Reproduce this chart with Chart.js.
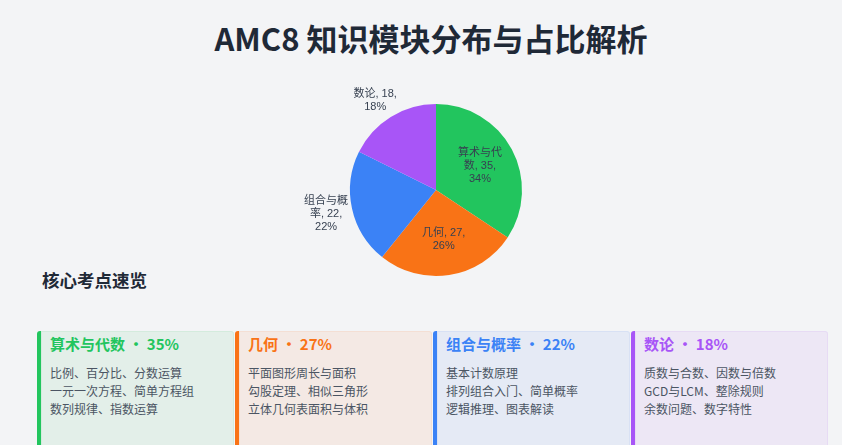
<!DOCTYPE html>
<html lang="zh-CN">
<head>
<meta charset="UTF-8">
<title>AMC8 知识模块分布与占比解析</title>
<script src="https://cdn.jsdelivr.net/npm/chart.js@4.4.1/dist/chart.umd.min.js"></script>
<style>
    html, body {
        margin: 0;
        padding: 0;
        background: #f3f4f6;
        font-family: "Noto Sans CJK SC", "Noto Sans", sans-serif;
    }
    .page {
        position: relative;
        width: 842px;
        height: 445px;
        overflow: hidden;
    }
    h1 {
        position: absolute;
        left: 20px;
        width: 822px;
        top: 15px;
        margin: 0;
        text-align: center;
        font-size: 31px;
        font-weight: 700;
        line-height: 46px;
        color: #1f2937;
    }
    .chart-box {
        position: absolute;
        left: 236px;
        top: 74px;
        width: 400px;
        height: 232px;
    }
    h2 {
        position: absolute;
        left: 42px;
        top: 267px;
        margin: 0;
        font-size: 17.5px;
        font-weight: 700;
        line-height: 26px;
        color: #1f2937;
    }
    .cards {
        position: absolute;
        left: 37px;
        top: 331px;
        width: 791px;
        display: grid;
        grid-template-columns: repeat(4, 1fr);
        gap: 1px;
    }
    .card {
        height: 130px;
        box-sizing: border-box;
        border-left: 4px solid;
        border-radius: 3px;
        padding: 1px 9px;
    }
    .card .head {
        font-size: 15px;
        font-weight: 700;
        line-height: 24px;
        margin-bottom: 8px;
    }
    .card .item {
        font-size: 12px;
        line-height: 18px;
        color: #4b5563;
    }
</style>
</head>
<body>
<div class="page">
    <h1>AMC8 知识模块分布与占比解析</h1>
    <div class="chart-box"><canvas id="pieChart"></canvas></div>
    <h2>核心考点速览</h2>
    <div class="cards" id="cards"></div>
</div>
<script>
// Chart data
const modules = ['算术与代数', '几何', '组合与概率', '数论'];
const moduleCounts = [35, 27, 22, 18];
const moduleColors = ['#22c55e', '#f97316', '#3b82f6', '#a855f7'];
const cardPercents = ['35%', '27%', '22%', '18%'];
const cardItems = [
    ['比例、百分比、分数运算', '一元一次方程、简单方程组', '数列规律、指数运算'],
    ['平面图形周长与面积', '勾股定理、相似三角形', '立体几何表面积与体积'],
    ['基本计数原理', '排列组合入门、简单概率', '逻辑推理、图表解读'],
    ['质数与合数、因数与倍数', 'GCD与LCM、整除规则', '余数问题、数字特性']
];

// Turn a hex colour into rgba with the given alpha
function hexToRgba(hex, alpha) {
    const n = parseInt(hex.slice(1), 16);
    return 'rgba(' + (n >> 16) + ', ' + ((n >> 8) & 255) + ', ' + (n & 255) + ', ' + alpha + ')';
}

// Build the summary cards
const cardsEl = document.getElementById('cards');
modules.forEach(function(name, i) {
    const card = document.createElement('div');
    card.className = 'card';
    card.style.borderLeftColor = moduleColors[i];
    card.style.background = hexToRgba(moduleColors[i], 0.08);
    card.style.boxShadow = 'inset 0 0 0 1px ' + hexToRgba(moduleColors[i], 0.08);
    let html = '<div class="head" style="color:' + moduleColors[i] + '">' +
        name + ' · ' + cardPercents[i] + '</div>';
    cardItems[i].forEach(function(t) {
        html += '<div class="item">' + t + '</div>';
    });
    card.innerHTML = html;
    cardsEl.appendChild(card);
});

// Split a label into lines no wider than maxWidth
// (CJK characters break anywhere, latin words break at spaces)
function wrapText(ctx, text, maxWidth) {
    const tokens = text.match(/[\u4e00-\u9fff]|[^\u4e00-\u9fff\s]+\s*|\s+/g);
    const lines = [];
    let line = '';
    tokens.forEach(function(tok) {
        const test = line + tok;
        if (ctx.measureText(test.trimEnd()).width > maxWidth && line) {
            lines.push(line.trimEnd());
            line = tok.trimStart();
        } else {
            line = test;
        }
    });
    if (line) lines.push(line.trimEnd());
    return lines;
}

// Plugin that writes "name, value, percent" on every slice:
// big slices get the label inside, small ones just outside the rim
const sliceLabels = {
    id: 'sliceLabels',
    afterDatasetsDraw(chart) {
        const ctx = chart.ctx;
        const meta = chart.getDatasetMeta(0);
        const values = chart.data.datasets[0].data;
        const total = values.reduce(function(a, b) { return a + b; }, 0);
        const lh = 13;
        ctx.save();
        ctx.font = '11px "Liberation Sans", "Noto Sans CJK SC", sans-serif';
        ctx.fillStyle = '#374151';
        ctx.textAlign = 'center';
        ctx.textBaseline = 'middle';
        meta.data.forEach(function(arc, i) {
            const share = values[i] / total;
            const mid = (arc.startAngle + arc.endAngle) / 2;
            const vx = Math.cos(mid);
            const vy = Math.sin(mid);
            const text = chart.data.labels[i] + ', ' + values[i] + ', ' + Math.round(share * 100) + '%';
            const lines = wrapText(ctx, text, 50);
            const w = Math.max.apply(null, lines.map(function(l) { return ctx.measureText(l).width; }));
            const h = lines.length * lh;
            let x, y;
            if (share > 0.25) {
                x = arc.x + vx * arc.outerRadius * 0.58;
                y = arc.y + vy * arc.outerRadius * 0.58;
            } else {
                const vs = 1 / Math.max(Math.abs(vx), Math.abs(vy));
                x = arc.x + vx * arc.outerRadius + (w / 2) * vx * vs + 4 * vx;
                y = arc.y + vy * arc.outerRadius + (h / 2) * vy * vs + 4 * vy;
            }
            lines.forEach(function(l, k) {
                ctx.fillText(l, x, y + (k - (lines.length - 1) / 2) * lh);
            });
        });
        ctx.restore();
    }
};

const ctx = document.getElementById('pieChart').getContext('2d');
const pieChart = new Chart(ctx, {
    type: 'pie',
    data: {
        labels: modules,
        datasets: [{
            data: moduleCounts,
            backgroundColor: moduleColors,
            borderWidth: 0,
            hoverOffset: 0
        }]
    },
    options: {
        responsive: true,
        maintainAspectRatio: false,
        animation: false,
        layout: { padding: { top: 30, bottom: 30 } },
        plugins: {
            legend: { display: false },
            tooltip: { enabled: false }
        }
    },
    plugins: [sliceLabels]
});
</script>
</body>
</html>
